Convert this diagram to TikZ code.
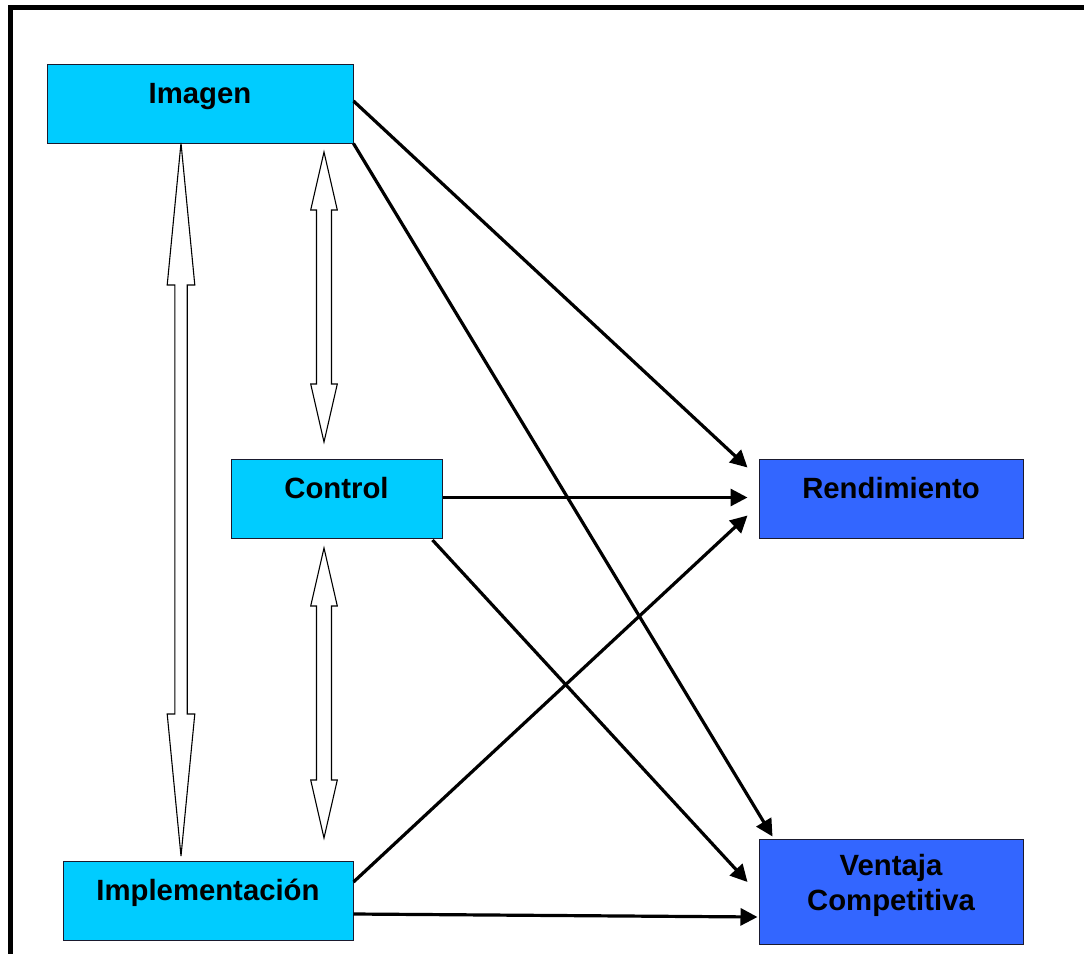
\documentclass[tikz,border=0pt]{standalone}
\usepackage{fontspec}
\setmainfont{Liberation Sans}
\usetikzlibrary{arrows.meta,calc}

\definecolor{boxcyan}{HTML}{00CCFF}
\definecolor{boxblue}{HTML}{3366FF}
\definecolor{boxedge}{HTML}{1A1A2E}

% white block arrow with a head at both ends (vertical)
% #1 = x of axis, #2 = y of upper tip, #3 = y of lower tip,
% #4 = head length, #5 = head half width, #6 = shaft half width
\newcommand\dblblockarrow[6]{%
  \draw[blockarrow]
    (#1,#2) -- (#1+#5,#2+#4) -- (#1+#6,#2+#4) -- (#1+#6,#3-#4)
    -- (#1+#5,#3-#4) -- (#1,#3) -- (#1-#5,#3-#4) -- (#1-#6,#3-#4)
    -- (#1-#6,#2+#4) -- (#1-#5,#2+#4) -- cycle;}

\begin{document}
\begin{tikzpicture}[x=1pt,y=-1pt,
  box/.style={draw=boxedge,line width=1pt,rectangle,inner sep=0pt,
    font=\fontsize{29.3}{35}\selectfont\bfseries,
    text height=22pt,text depth=22pt},
  lightbox/.style={box,fill=boxcyan},
  darkbox/.style={box,fill=boxblue},
  link/.style={line width=3.2pt,-{Triangle[length=17pt,width=17pt]}},
  blockarrow/.style={draw=black,line width=1.1pt,fill=white,line join=miter}]

\useasboundingbox (0,0) rectangle (1084,953);
\fill[white] (0,0) rectangle (1084,953);

% outer frame (runs past the right and bottom edges)
\draw[line width=5pt] (1100,7.5) -- (10.5,7.5) -- (10.5,980);

% boxes
\node[lightbox,minimum width=306pt,minimum height=79pt] (img)  at (200,103.5) {Imagen};
\node[lightbox,minimum width=211pt,minimum height=79pt] (ctl)  at (336.5,498.5) {Control};
\node[lightbox,minimum width=290pt,minimum height=79pt] (impl) at (208,900.5) {Implementación};
\node[darkbox,minimum width=264pt,minimum height=79pt]  (rend) at (891,498.5) {Rendimiento};
\node[darkbox,minimum width=264pt,minimum height=105pt,align=center,
      text height=47pt,text depth=10pt] (vc) at (891,891.5) {Ventaja\\Competitiva};

% two-way block arrows
\dblblockarrow{181}{143}{856}{142}{13.8}{6.2}
\dblblockarrow{324}{152}{442}{58}{13.3}{7.5}
\dblblockarrow{324}{548}{838}{58}{13.3}{7.5}

% causal links
\draw[link] ($(img.east)+(0,-2.5)$) -- ($(rend.north west)+(-11,9)$);
\draw[link] (img.south east) -- ($(vc.north west)+(14,-2)$);
\draw[link] ($(ctl.east)+(0,-1)$) -- ($(rend.west)+(-11,-1)$);
\draw[link] ($(ctl.south east)+(-10,1.5)$) -- ($(vc.west)+(-11,-9.5)$);
\draw[link] ($(impl.east)+(0,-18.5)$) -- ($(rend.south west)+(-11,-23)$);
\draw[link] ($(impl.east)+(0,13.5)$) -- ($(vc.west)+(-1,25.5)$);

\end{tikzpicture}
\end{document}
